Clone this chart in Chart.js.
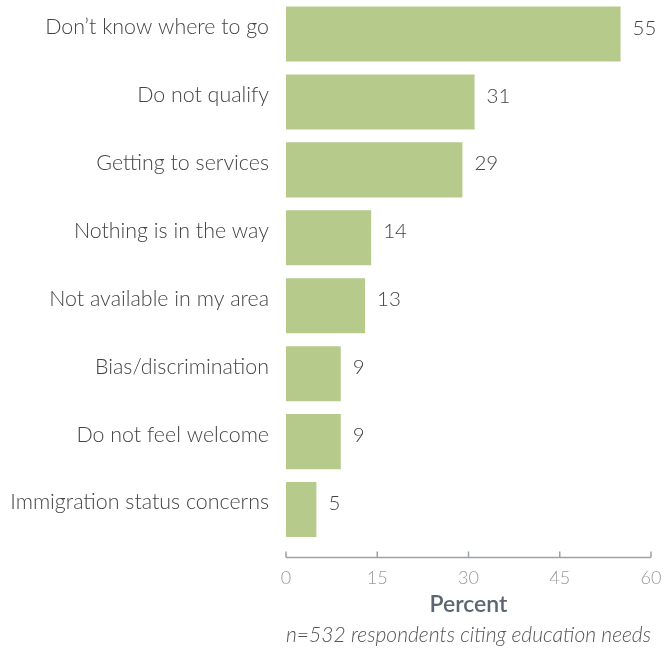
<!DOCTYPE html>
<html lang="en">
<head>
  <meta charset="UTF-8" />
  <title>Barriers to education services</title>
  <script src="https://cdn.jsdelivr.net/npm/chart.js"></script>
  <style>
    html, body { margin: 0; padding: 0; background: #fff; }
    .wrap { width: 665px; height: 650px; }
  </style>
</head>
<body>
  <div class="wrap">
    <canvas id="barrierChart" width="665" height="650"></canvas>
  </div>

  <script>
    const categories = [
      'Don\u2019t know where to go',
      'Do not qualify',
      'Getting to services',
      'Nothing is in the way',
      'Not available in my area',
      'Bias/discrimination',
      'Do not feel welcome',
      'Immigration status concerns'
    ];
    const percents = [55, 31, 29, 14, 13, 9, 9, 5];
    const xTicks = [0, 15, 30, 45, 60];
    const axisTitle = 'Percent';
    const footnote = 'n=532 respondents citing education needs';

    // value labels at the end of each bar (sit a little above bar centre)
    const valueLabels = {
      id: 'valueLabels',
      afterDatasetsDraw(chart) {
        const { ctx } = chart;
        const meta = chart.getDatasetMeta(0);
        ctx.save();
        ctx.font = '300 20.5px Lato';
        ctx.fillStyle = '#444';
        ctx.textAlign = 'left';
        ctx.textBaseline = 'middle';
        meta.data.forEach((bar, i) => {
          ctx.fillText(percents[i], bar.x + 12, bar.y - 6);
        });
        ctx.restore();
      }
    };

    // axis line sits a bit below the plot area, ticks pointing up
    const bottomAxis = {
      id: 'bottomAxis',
      afterDraw(chart) {
        const { ctx, chartArea } = chart;
        const x = chart.scales.x;
        const y = chartArea.bottom + 14;
        ctx.save();
        ctx.strokeStyle = '#9ca2a8';
        ctx.lineWidth = 1.5;
        ctx.beginPath();
        ctx.moveTo(x.left, y);
        ctx.lineTo(x.right, y);
        x.ticks.forEach((t, i) => {
          const px = x.getPixelForTick(i);
          ctx.moveTo(px, y);
          ctx.lineTo(px, y - 6);
        });
        ctx.stroke();
        ctx.restore();
      }
    };

    new Chart(document.getElementById('barrierChart'), {
      type: 'bar',
      data: {
        labels: categories,
        datasets: [{
          data: percents,
          backgroundColor: '#b6ca8c',
          barPercentage: 0.81,
          categoryPercentage: 1
        }]
      },
      options: {
        indexAxis: 'y',
        responsive: false,
        animation: false,
        layout: { padding: { top: 0, right: 14, bottom: 0, left: 0 } },
        plugins: {
          legend: { display: false },
          tooltip: { enabled: false },
          subtitle: {
            display: true,
            text: footnote,
            position: 'bottom',
            fullSize: false,
            color: '#555',
            font: { family: 'Lato', size: 21.2, style: 'italic', weight: 300 },
            padding: { top: 3, bottom: 2 }
          }
        },
        scales: {
          x: {
            min: 0,
            max: 60,
            afterBuildTicks(scale) {
              scale.ticks = xTicks.map(v => ({ value: v }));
            },
            afterFit(scale) {
              scale.height = 76;
              scale.paddingLeft = 0;
              scale.paddingRight = 0;
            },
            grid: { display: false, drawTicks: false },
            border: { display: false },
            ticks: {
              color: '#9a9a9a',
              font: { family: 'Lato', size: 18, weight: 300 },
              padding: 24
            },
            title: {
              display: true,
              text: axisTitle,
              color: '#5b6670',
              font: { family: 'Lato', size: 23, weight: 600 },
              padding: { top: 0, bottom: 1 }
            }
          },
          y: {
            afterFit(scale) {
              scale.width = 286;
              scale.paddingTop = 0;
              scale.paddingBottom = 0;
            },
            grid: { display: false, drawTicks: false },
            border: { display: false },
            ticks: {
              color: '#444',
              font: { family: 'Lato', size: 21.4, weight: 300 },
              padding: 17,
              labelOffset: -7
            }
          }
        }
      },
      plugins: [valueLabels, bottomAxis]
    });
  </script>
</body>
</html>
